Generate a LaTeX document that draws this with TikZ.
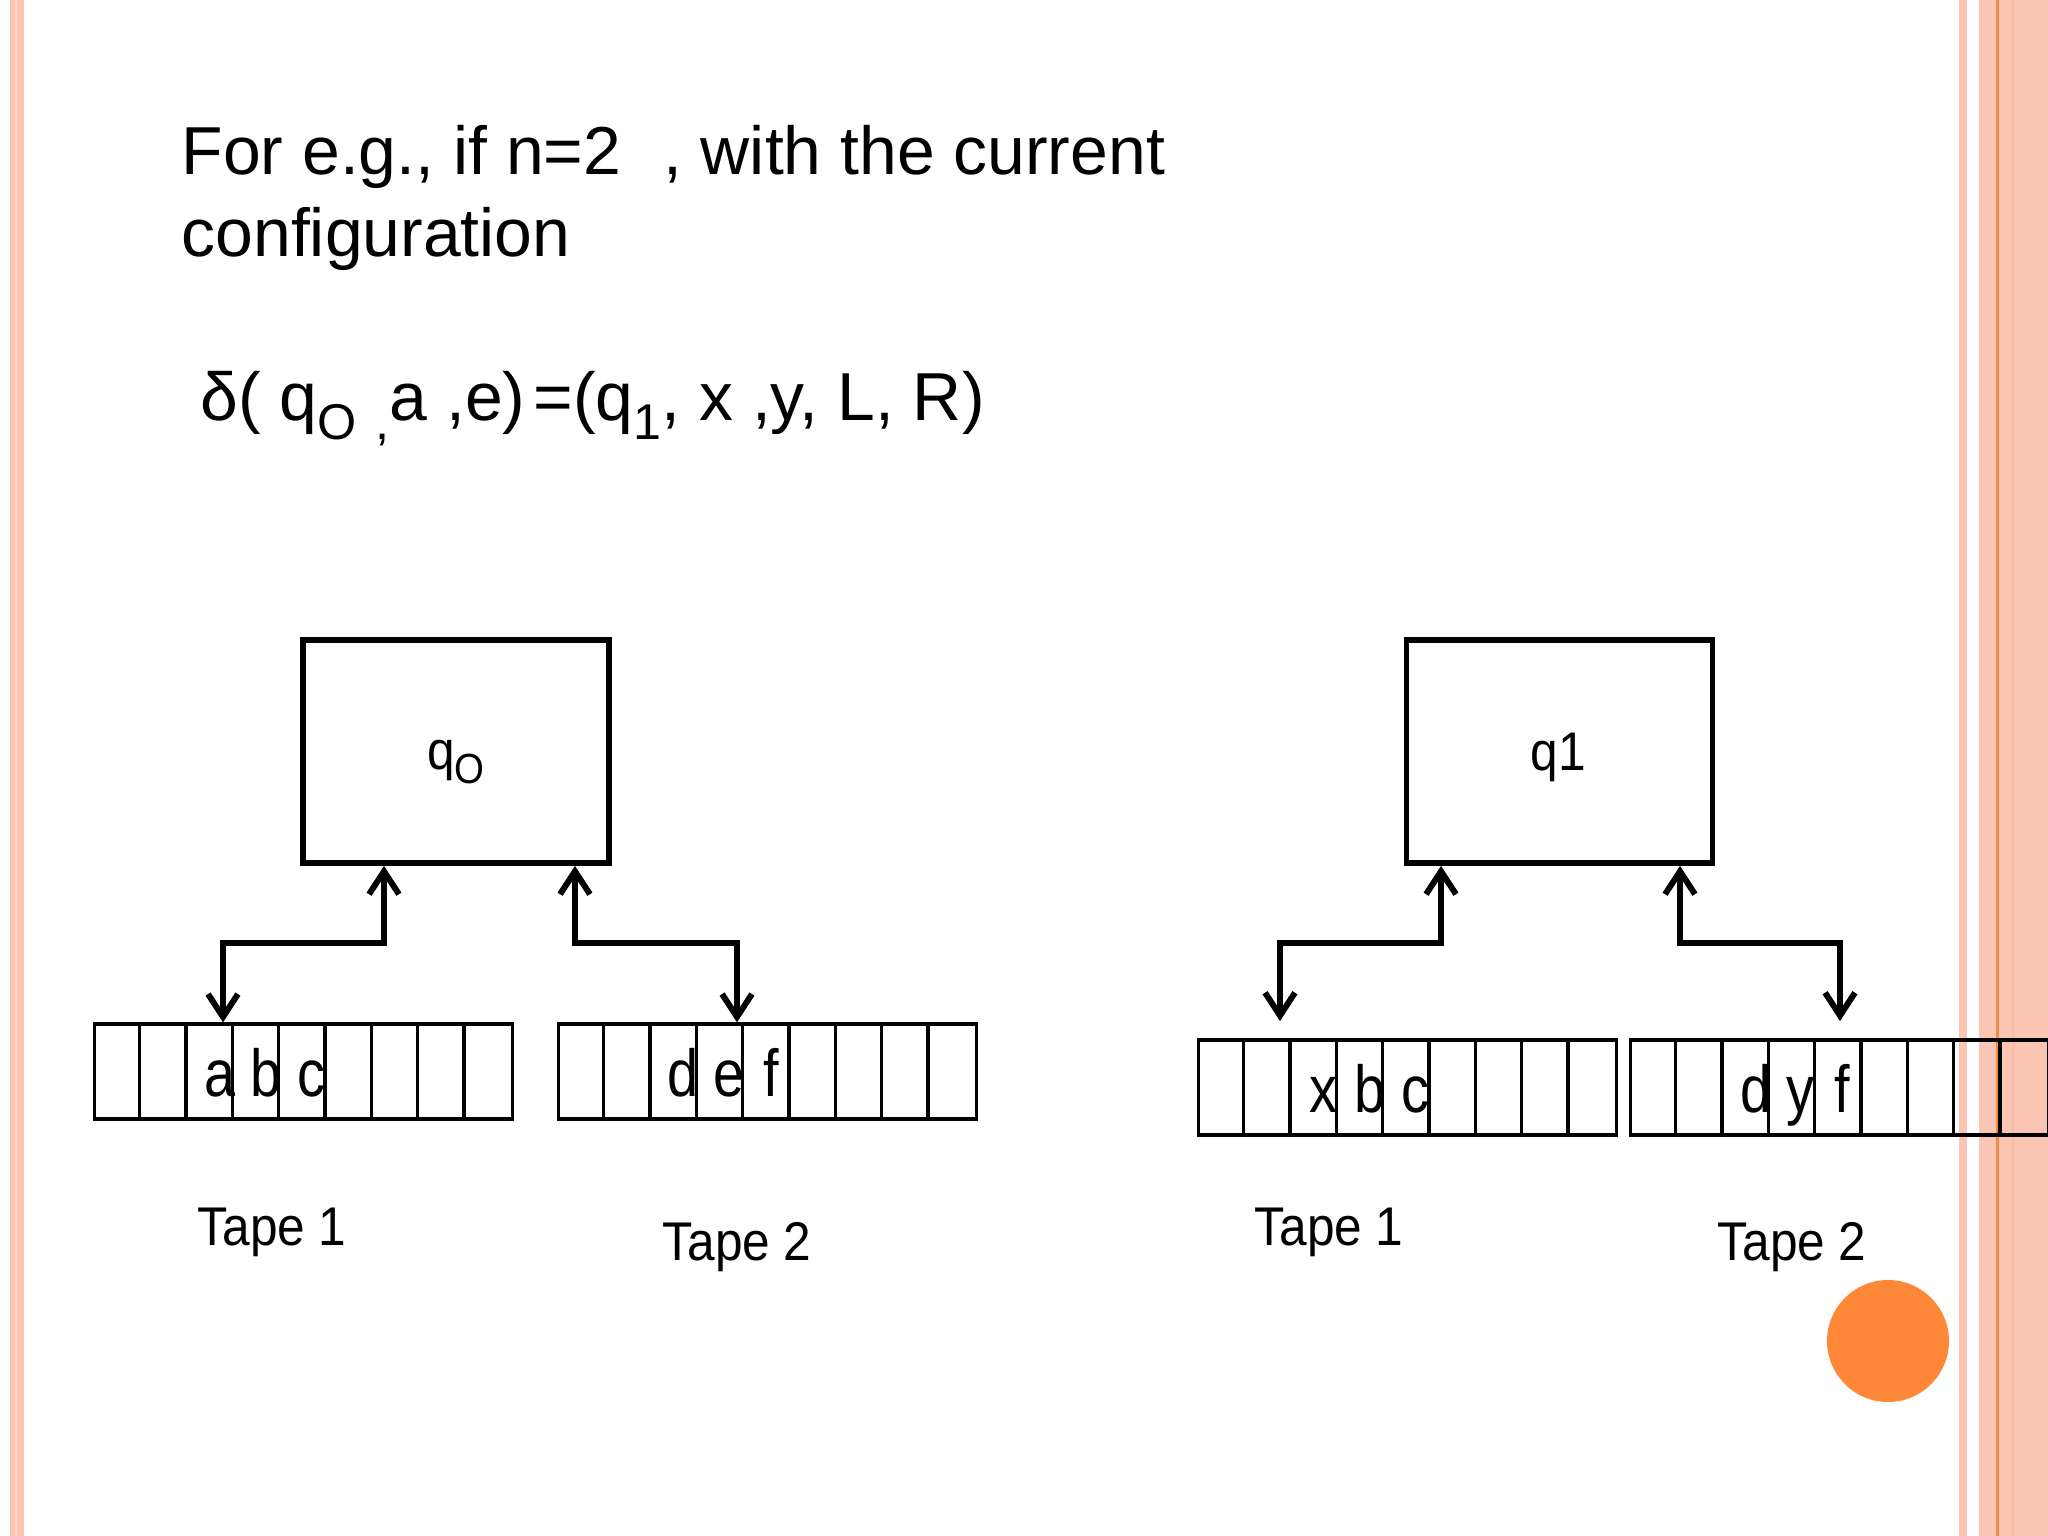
\documentclass[tikz,border=0pt]{standalone}
\usepackage{fontspec}
\setmainfont{Liberation Sans}
\newfontfamily\tapefnt[FakeStretch=0.84]{Liberation Sans}
\newfontfamily\labfnt[FakeStretch=0.91]{Liberation Sans}
\usetikzlibrary{arrows.meta,calc}
\definecolor{stripe}{HTML}{FAC5B2}
\definecolor{stripelt}{HTML}{FCDCD0}
\definecolor{stripedk}{HTML}{F8BBA5}
\definecolor{orangeline}{HTML}{F5874A}
\definecolor{dotc}{HTML}{FF8838}
\newcommand{\lsub}[1]{\raisebox{-0.28em}{\fontsize{14.3pt}{16pt}\selectfont #1}}
\begin{document}
\begin{tikzpicture}[x=0.01cm,y=-0.01cm,
  machine/.style={draw,line width=1.6pt,minimum width=3.06cm,minimum height=2.23cm,inner sep=0pt},
  tapebox/.style={draw,line width=0.9pt,minimum width=4.17cm,minimum height=0.95cm,inner sep=0pt},
  cellline/.style={line width=0.9pt},
  conn/.style={line width=1.7pt,{Straight Barb[length=6.5pt,width=8.5pt]}-{Straight Barb[length=6.5pt,width=8.5pt]}},
  title/.style={anchor=base west,inner sep=0pt,font=\fontsize{19.3pt}{23pt}\selectfont},
  cellchar/.style={anchor=base,inner sep=0pt,font=\tapefnt\fontsize{18.9pt}{22pt}\selectfont},
  tapelabel/.style={anchor=base west,inner sep=0pt,font=\labfnt\fontsize{15.5pt}{18pt}\selectfont},
  statelabel/.style={inner sep=0pt,font=\labfnt\fontsize{15.5pt}{18pt}\selectfont}
]
\useasboundingbox (0,0) rectangle (2048,1536);
\fill[white] (0,0) rectangle (2048,1536);
% border stripes
\fill[stripe] (10,0) rectangle (24,1536);
\fill[stripelt] (14.5,0) rectangle (16.5,1536);
\fill[stripe] (1959,0) rectangle (1967,1536);
\fill[stripe] (1979,0) rectangle (2048,1536);
\fill[stripedk] (2012,0) rectangle (2014,1536);
\fill[orangeline] (1996,0) rectangle (1998.5,1536);
% orange dot
\fill[dotc] (1888,1341) circle[radius=61];

% texts
\node[title] (t1) at (181,174) {For e.g., if n=2\hspace{0.62em}, with the current};
\node[title] (t2) at (181,256) {configuration};
\node[title] (t3) at (200,420) {δ( q\lsub{O} \lsub{,}a ,e)\hspace{0.12em}=(q\lsub{1}, x ,y, L, R)};

% machines
\node[machine] (m0) at (456,751.5) {};
\node[machine] (m1) at (1559.5,751.5) {};
\node[statelabel] (l0) at (456,762) {q\raisebox{-0.25em}{\fontsize{12pt}{14pt}\selectfont O}};
\node[statelabel] (l1) at (1558,757) {q1};

% tapes
\node[tapebox] (tL1) at (303.5,1071.5) {};
\node[tapebox] (tL2) at (767.5,1071.5) {};
\node[tapebox] (tR1) at (1407.5,1087.5) {};
\node[tapebox] (tR2) at (1839.5,1087.5) {};
\foreach \t in {tL1,tL2,tR1,tR2}{
  \foreach \i in {1,...,8}{
    \draw[cellline] ($(\t.north west)+(\i*46.33,0)$) -- ($(\t.south west)+(\i*46.33,0)$);
  }
}
% cell contents
\node[cellchar] (ca) at (220,1096) {a};
\node[cellchar] (cb) at (266,1096) {b};
\node[cellchar] (cc) at (311,1096) {c};
\node[cellchar] (cd) at (683,1096) {d};
\node[cellchar] (ce) at (729,1096) {e};
\node[cellchar] (cf) at (771,1096) {f};
\node[cellchar] (cx) at (1323,1112) {x};
\node[cellchar] (cb2) at (1370,1112) {b};
\node[cellchar] (cc2) at (1415,1112) {c};
\node[cellchar] (cd2) at (1756,1112) {d};
\node[cellchar] (cy) at (1800,1112) {y};
\node[cellchar] (cf2) at (1842,1112) {f};

% tape labels
\node[tapelabel] (lab1) at (197,1245) {Tape 1};
\node[tapelabel] (lab2) at (662,1260) {Tape 2};
\node[tapelabel] (lab3) at (1254,1245) {Tape 1};
\node[tapelabel] (lab4) at (1717,1260) {Tape 2};

% connector end points
\coordinate (a1) at (m0.south -| 384,0);
\coordinate (a2) at (tL1.north -| 223,0);
\coordinate (b1) at (m0.south -| 575,0);
\coordinate (b2) at (tL2.north -| 737,0);
\coordinate (c1) at (m1.south -| 1441,0);
\coordinate (c2) at (1280,1021);
\coordinate (d1) at (m1.south -| 1680,0);
\coordinate (d2) at (1840,1021);
\draw[conn] (a1) -- (a1 |- 0,943) -| (a2);
\draw[conn] (b1) -- (b1 |- 0,943) -| (b2);
\draw[conn] (c1) -- (c1 |- 0,943) -| (c2);
\draw[conn] (d1) -- (d1 |- 0,943) -| (d2);
\end{tikzpicture}
\end{document}
